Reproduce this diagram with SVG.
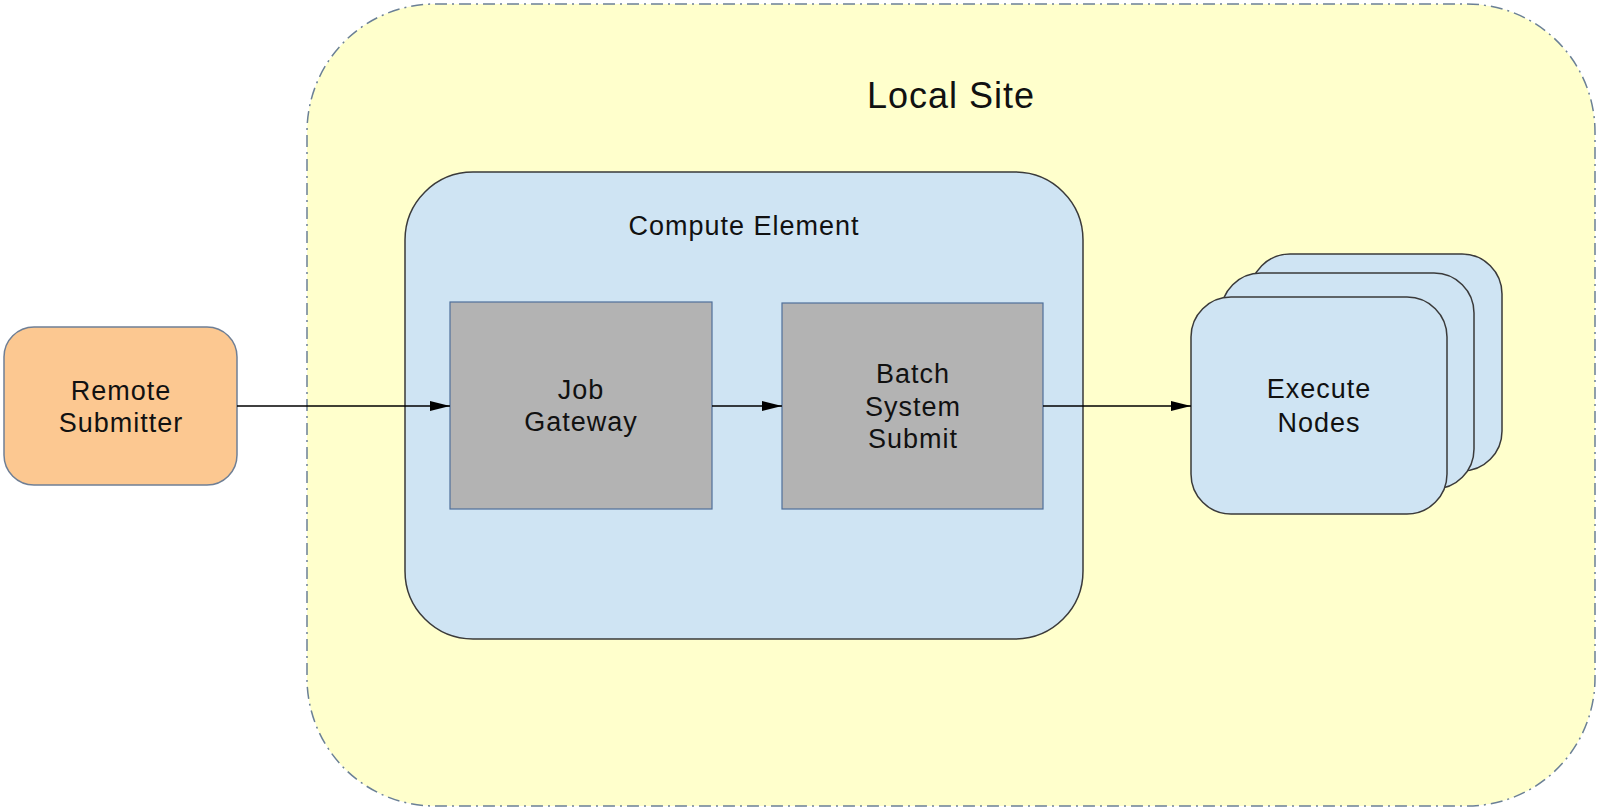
<svg xmlns="http://www.w3.org/2000/svg" width="1597" height="808" viewBox="0 0 1597 808">
<style>
text{font-family:"Liberation Sans",Arial,sans-serif;fill:#111;text-anchor:middle}
.lbl{font-size:27px;letter-spacing:1px}
.title{font-size:36px;letter-spacing:1px}
.blue{fill:#cfe4f3;stroke:#3a3a3a;stroke-width:1.5}
.gray{fill:#b3b3b3;stroke:#4f6f9a;stroke-width:1.2}
.conn{stroke:#000;stroke-width:1.5;fill:none;marker-end:url(#arr)}
</style>
<defs>
<marker id="arr" viewBox="0 0 20 12" refX="20" refY="6" markerWidth="20" markerHeight="12" markerUnits="userSpaceOnUse" orient="auto">
<path d="M0,1 L20,6 L0,11 Z" fill="#000"/>
</marker>
</defs>
<rect width="1597" height="808" fill="#fff"/>
<g id="local-site">
<rect x="307" y="4" width="1288" height="802" rx="128" ry="128" fill="#ffffcc" stroke="#6b8096" stroke-width="1.5" stroke-dasharray="12,5,2,5"/>
<text class="title" x="951" y="108">Local Site</text>
</g>
<g id="compute-element">
<rect class="blue" x="405" y="172" width="678" height="467" rx="68" ry="68"/>
<text class="lbl" x="744" y="235">Compute Element</text>
</g>
<g id="remote-submitter">
<rect x="4" y="327" width="233" height="158" rx="30" ry="30" fill="#fcc891" stroke="#6f7f95" stroke-width="1.5"/>
<text class="lbl" x="121" y="400">Remote</text>
<text class="lbl" x="121" y="432">Submitter</text>
</g>
<g id="job-gateway">
<rect class="gray" x="450" y="302" width="262" height="207"/>
<text class="lbl" x="581" y="399">Job</text>
<text class="lbl" x="581" y="431">Gateway</text>
</g>
<g id="batch-system-submit">
<rect class="gray" x="782" y="303" width="261" height="206"/>
<text class="lbl" x="913" y="383">Batch</text>
<text class="lbl" x="913" y="416">System</text>
<text class="lbl" x="913" y="448">Submit</text>
</g>
<g id="execute-nodes">
<rect class="blue" x="1250" y="254" width="252" height="217" rx="40" ry="40"/>
<rect class="blue" x="1221" y="273" width="253" height="216" rx="40" ry="40"/>
<rect class="blue" x="1191" y="297" width="256" height="217" rx="40" ry="40"/>
<text class="lbl" x="1319" y="398">Execute</text>
<text class="lbl" x="1319" y="432">Nodes</text>
</g>
<g id="connectors">
<path class="conn" d="M237,406 L450,406"/>
<path class="conn" d="M712,406 L782,406"/>
<path class="conn" d="M1043,406 L1191,406"/>
</g>
</svg>
